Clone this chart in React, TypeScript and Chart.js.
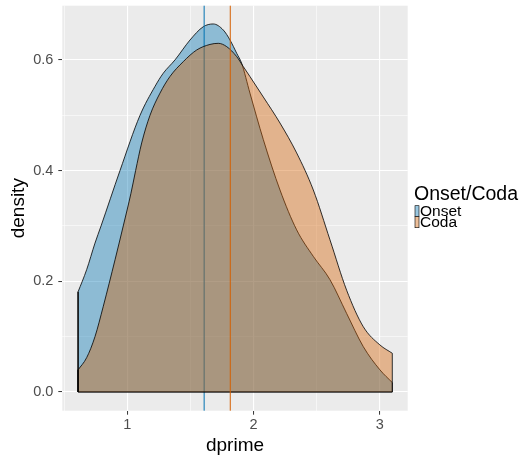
import { useEffect, useRef } from 'react'
import { Chart, registerables } from 'chart.js'

Chart.register(...registerables)

// density estimates
const onsetX = [0.61, 0.678, 0.744, 0.792, 0.942, 1.101, 1.219, 1.285, 1.378, 1.497, 1.602, 1.681, 1.761, 1.814, 1.867, 1.906, 1.972, 2.078, 2.21, 2.342, 2.474, 2.606, 2.738, 2.87, 3.002, 3.1]
const onsetY = [0.181, 0.221, 0.269, 0.3, 0.4, 0.5, 0.552, 0.576, 0.6, 0.636, 0.66, 0.665, 0.654, 0.636, 0.612, 0.594, 0.54, 0.456, 0.365, 0.293, 0.245, 0.203, 0.142, 0.082, 0.04, 0.017]
const codaX = [0.61, 0.678, 0.744, 0.81, 0.903, 0.968, 1.029, 1.066, 1.114, 1.18, 1.259, 1.338, 1.444, 1.55, 1.655, 1.721, 1.788, 1.867, 1.919, 1.972, 2.078, 2.21, 2.342, 2.474, 2.606, 2.738, 2.87, 3.002, 3.1]
const codaY = [0.04, 0.062, 0.1, 0.155, 0.239, 0.3, 0.359, 0.4, 0.45, 0.5, 0.54, 0.57, 0.597, 0.618, 0.628, 0.63, 0.624, 0.606, 0.588, 0.57, 0.533, 0.486, 0.432, 0.365, 0.275, 0.184, 0.118, 0.085, 0.07]
const onsetMean = 1.609
const codaMean = 1.816

const xTicks = [0.5, 1, 1.5, 2, 2.5, 3]
const yTicks = [0, 0.1, 0.2, 0.3, 0.4, 0.5, 0.6]
const groups = ['Onset', 'Coda']

const BLUE = '#0072B2'
const ORANGE = '#D55E00'
const BLUE_FILL = 'rgba(0,114,178,0.4)'
const ORANGE_FILL = 'rgba(213,94,0,0.4)'
const FONT = '"Liberation Sans", Arial, sans-serif'

const pts = (xs: number[], ys: number[]) => xs.map((x, i) => ({ x, y: ys[i] }))
// vertical ends + baseline of the density polygon
const edges = (xs: number[], ys: number[]) => [
  { x: xs[0], y: ys[0] },
  { x: xs[0], y: 0 },
  { x: xs[xs.length - 1], y: 0 },
  { x: xs[xs.length - 1], y: ys[ys.length - 1] },
]

function vline(chart: any, value: number, color: string) {
  const { ctx, chartArea } = chart
  const px = chart.scales.x.getPixelForValue(value)
  ctx.save()
  ctx.strokeStyle = color
  ctx.lineWidth = 1
  ctx.beginPath()
  ctx.moveTo(px, chartArea.top)
  ctx.lineTo(px, chartArea.bottom)
  ctx.stroke()
  ctx.restore()
}

const ggPlugin = {
  id: 'gg',
  beforeDraw(chart: any) {
    const { ctx, chartArea: a } = chart
    ctx.save()
    ctx.fillStyle = '#EBEBEB'
    ctx.fillRect(a.left, a.top, a.right - a.left, a.bottom - a.top)
    ctx.restore()
  },
  afterDatasetDraw(chart: any, args: any) {
    if (args.index === 0) vline(chart, onsetMean, BLUE)
  },
  afterDatasetsDraw(chart: any) {
    vline(chart, codaMean, ORANGE)
  },
  afterDraw(chart: any) {
    const { ctx } = chart
    ctx.save()
    ctx.fillStyle = '#000'
    ctx.textBaseline = 'alphabetic'
    ctx.font = `19.5px ${FONT}`
    ctx.fillText('Onset/Coda', 414, 200)
    const fills = [BLUE_FILL, ORANGE_FILL]
    ctx.font = `15.5px ${FONT}`
    groups.forEach((g, i) => {
      const top = 205.7 + i * 11
      ctx.fillStyle = '#fff'
      ctx.fillRect(415, top, 4, 11)
      ctx.fillStyle = fills[i]
      ctx.fillRect(415, top, 4, 11)
      ctx.strokeStyle = '#000'
      ctx.lineWidth = 0.6
      ctx.strokeRect(415, top, 4, 11)
      ctx.fillStyle = '#000'
      ctx.fillText(g, 420, 215.5 + i * 11.5)
    })
    ctx.restore()
  },
}

export default function App() {
  const canvasRef = useRef<HTMLCanvasElement>(null)

  useEffect(() => {
    if (!canvasRef.current) return
    const isMajorX = (v: number) => Number.isInteger(v)
    const isMajorY = (v: number) => Math.round(v * 10) % 2 === 0
    const curve = { borderColor: '#000', borderWidth: 0.8, fill: 'origin', cubicInterpolationMode: 'monotone', pointRadius: 0 }
    const edge = { borderColor: '#000', borderWidth: 0.8, fill: false, tension: 0, pointRadius: 0 }
    const chart = new Chart(canvasRef.current, {
      type: 'line',
      data: {
        datasets: [
          { label: 'Onset', data: pts(onsetX, onsetY), order: 4, backgroundColor: BLUE_FILL, ...curve },
          { label: 'Onset edge', data: edges(onsetX, onsetY), order: 3, ...edge },
          { label: 'Coda', data: pts(codaX, codaY), order: 2, backgroundColor: ORANGE_FILL, ...curve },
          { label: 'Coda edge', data: edges(codaX, codaY), order: 1, ...edge },
        ] as any
      },
      options: {
        responsive: true, maintainAspectRatio: false, animation: false,
        layout: { padding: { left: 0, top: 5.7, right: 113.3, bottom: 0 } },
        plugins: { legend: { display: false }, tooltip: { enabled: false } },
        scales: {
          x: {
            type: 'linear', min: 0.485, max: 3.222,
            afterBuildTicks: (s: any) => { s.ticks = xTicks.map(value => ({ value })) },
            afterFit: (s: any) => { s.height = 46.3; s.paddingLeft = 0; s.paddingRight = 0 },
            border: { display: false },
            grid: {
              color: '#fff',
              lineWidth: (c: any) => (isMajorX(c.tick.value) ? 1.1 : 0.55),
              tickColor: (c: any) => (isMajorX(c.tick.value) ? '#333' : 'rgba(0,0,0,0)'),
              tickWidth: 1, tickLength: 4,
            },
            ticks: {
              color: '#4D4D4D', font: { family: FONT, size: 14.5 }, padding: 2, maxRotation: 0,
              callback: (v: any) => (isMajorX(Number(v)) ? String(v) : ''),
            },
            title: { display: true, text: 'dprime', color: '#000', font: { family: FONT, size: 19 }, padding: { top: 0, bottom: 0 } },
          },
          y: {
            type: 'linear', min: -0.0338, max: 0.698,
            afterBuildTicks: (s: any) => { s.ticks = yTicks.map(value => ({ value })) },
            afterFit: (s: any) => { s.width = 62.3; s.paddingTop = 0; s.paddingBottom = 0 },
            border: { display: false },
            grid: {
              color: '#fff',
              lineWidth: (c: any) => (isMajorY(c.tick.value) ? 1.1 : 0.55),
              tickColor: (c: any) => (isMajorY(c.tick.value) ? '#333' : 'rgba(0,0,0,0)'),
              tickWidth: 1, tickLength: 4,
            },
            ticks: {
              color: '#4D4D4D', font: { family: FONT, size: 14.5 }, padding: 5,
              callback: (v: any) => (isMajorY(Number(v)) ? Number(v).toFixed(1) : ''),
            },
            title: { display: true, text: 'density', color: '#000', font: { family: FONT, size: 19 }, padding: { top: 7, bottom: 0 } },
          },
        },
      },
      plugins: [ggPlugin],
    })
    return () => chart.destroy()
  }, [])

  return (
    <div style={{ position: 'fixed', left: 0, top: 0, width: 521, height: 457, background: '#fff' }}>
      <canvas ref={canvasRef} />
    </div>
  )
}
